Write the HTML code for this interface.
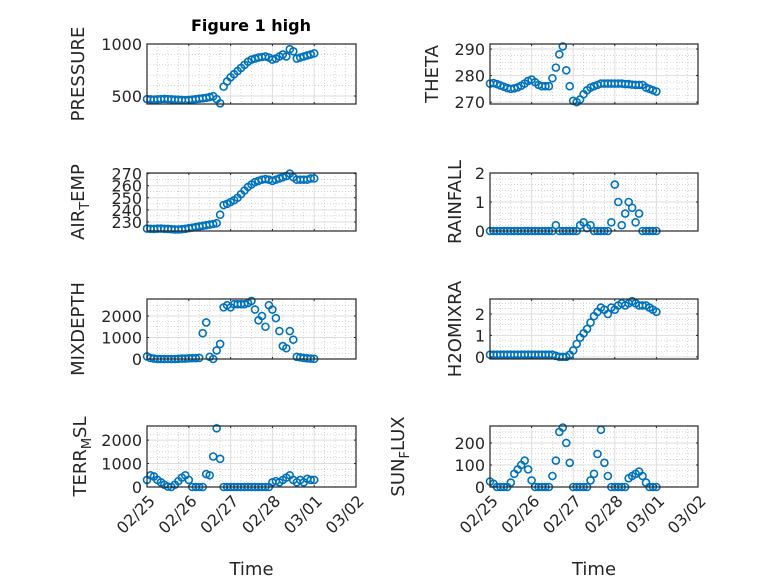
<!DOCTYPE html>
<html><head><meta charset="utf-8"><style>
body{margin:0;background:#fff;}
svg{display:block;font-family:"DejaVu Sans","Liberation Sans",sans-serif;}
</style></head><body>
<svg id="fig" width="778" height="583">
<rect width="778" height="583" fill="#fff"/>
<text x="251" y="31" text-anchor="middle" font-size="16" font-weight="bold" fill="#000">Figure 1 high</text>
</svg>
<script>
const days=[0,1,2,3,4,5];
const dayLabels=['02/25','02/26','02/27','02/28','03/01','03/02'];
const pressure=[470,468,466,468,470,472,470,468,466,464,462,460,462,466,470,474,478,482,490,498,470,430,590,640,680,710,740,770,800,830,850,860,870,875,880,870,850,860,880,900,880,950,930,860,870,880,890,900,910];
const airTemp=[224.5,224.3,224.2,224.4,224.5,224.3,224.2,224,223.8,223.8,224,224.3,224.8,225.3,225.8,226.3,226.8,227.3,227.8,228.3,229,236,244,245,246.5,248,250,253,256,259,261,263,264,265,265.5,265,264,265,266,267,268,270,267,265,265,265,265,266,266];
const theta=[277,277.2,276.8,276.3,275.8,275.3,275,275.2,275.6,276.2,277,278,278.5,277.5,276.5,276,276,276,279,283,288,291,282,276,270.5,270,271,273,274.5,275.5,276,276.5,277,277,277,277,277,277,277,276.8,276.8,276.6,276.5,276.5,276.5,275.5,275,274.5,274];
const rainfall=[0,0,0,0,0,0,0,0,0,0,0,0,0,0,0,0,0,0,0,0.2,0,0,0,0,0,0,0.2,0.3,0.1,0.2,0,0,0,0,0,0.3,1.6,1.0,0.2,0.6,1.0,0.8,0.3,0.6,0,0,0,0,0];
const mixDepth=[120,50,20,0,0,0,0,0,0,10,20,20,30,40,40,50,1200,1700,100,0,400,700,2400,2500,2400,2550,2550,2550,2550,2600,2700,2300,1800,2000,1500,2500,2300,1900,1300,600,500,1300,900,100,80,50,30,20,10];
const h2o=[0.1,0.1,0.1,0.1,0.1,0.1,0.1,0.1,0.1,0.1,0.1,0.1,0.1,0.1,0.1,0.1,0.1,0.1,0.1,0.05,0,0,0,0.1,0.3,0.6,0.9,1.1,1.3,1.6,1.9,2.1,2.3,2.2,2.0,2.3,2.2,2.4,2.5,2.4,2.5,2.6,2.5,2.4,2.4,2.4,2.3,2.2,2.1];
const terr=[300,500,450,300,200,100,20,0,100,250,400,500,300,0,0,0,0,550,500,1300,2500,1200,0,0,0,0,0,0,0,0,0,0,0,0,0,0,200,250,200,300,400,500,300,200,300,200,350,300,300];
const sun=[25,15,0,0,0,0,20,60,80,100,120,80,30,0,0,0,0,0,50,120,250,270,200,110,0,0,0,0,0,30,60,150,260,110,50,0,0,0,0,0,40,50,60,70,50,20,0,0,0];

const NS='http://www.w3.org/2000/svg';
const svg=document.getElementById('fig');
function mk(tag,attrs,parent){const e=document.createElementNS(NS,tag);for(const k in attrs)e.setAttribute(k,attrs[k]);(parent||svg).appendChild(e);return e;}

const panels=[
 {name:'pressure',data:pressure,x0:147,x1:356,y0:44,y1:104,ymin:423,ymax:1000,ticks:[500,1000],minor:[600,700,800,900],label:['PRESSURE'],lx:84},
 {name:'theta',data:theta,x0:490,x1:698,y0:44,y1:104,ymin:269.3,ymax:291.9,ticks:[270,280,290],minor:[272.5,275,277.5,282.5,285,287.5],label:['THETA'],lx:438},
 {name:'air-temp',data:airTemp,x0:147,x1:356,y0:173,y1:231,ymin:222.5,ymax:270.5,ticks:[230,240,250,260,270],minor:[225,235,245,255,265],label:['AIR','T','EMP'],lx:84},
 {name:'rainfall',data:rainfall,x0:490,x1:698,y0:173,y1:231,ymin:0,ymax:2,ticks:[0,1,2],minor:[0.2,0.4,0.6,0.8,1.2,1.4,1.6,1.8],label:['RAINFALL'],lx:461},
 {name:'mixdepth',data:mixDepth,x0:147,x1:356,y0:299,y1:359,ymin:0,ymax:2790,ticks:[0,1000,2000],minor:[250,500,750,1250,1500,1750,2250,2500],label:['MIXDEPTH'],lx:84},
 {name:'h2omixra',data:h2o,x0:490,x1:698,y0:299,y1:359,ymin:-0.1,ymax:2.7,ticks:[0,1,2],minor:[0.25,0.5,0.75,1.25,1.5,1.75,2.25,2.5],label:['H2OMIXRA'],lx:461},
 {name:'terr-msl',data:terr,x0:147,x1:356,y0:426,y1:487,ymin:0,ymax:2600,ticks:[0,1000,2000],minor:[250,500,750,1250,1500,1750,2250,2500],label:['TERR','M','SL'],xt:true,lx:86},
 {name:'sun-flux',data:sun,x0:490,x1:698,y0:426,y1:487,ymin:0,ymax:277,ticks:[0,100,200],minor:[25,50,75,125,150,175,225,250],label:['SUN','F','LUX'],xt:true,lx:404}
];

panels.forEach(p=>{
 const g=mk('g',{});
 
 
 const X=d=>p.x0+(d-0)/(5-0)*(p.x1-p.x0);
 const Y=v=>p.y1-(v-p.ymin)/(p.ymax-p.ymin)*(p.y1-p.y0);
 for(let d=0;d<5;d+=0.25){if(d%1===0)continue;mk('line',{x1:X(d),x2:X(d),y1:p.y0,y2:p.y1,stroke:'#bbb','stroke-width':0.6,'stroke-dasharray':'1,2'},g);}
 p.minor.forEach(v=>mk('line',{x1:p.x0,x2:p.x1,y1:Y(v),y2:Y(v),stroke:'#bbb','stroke-width':0.6,'stroke-dasharray':'1,2'},g));
 days.forEach(d=>mk('line',{x1:X(d),x2:X(d),y1:p.y0,y2:p.y1,stroke:'#dedede','stroke-width':1},g));
 p.ticks.forEach(v=>mk('line',{x1:p.x0,x2:p.x1,y1:Y(v),y2:Y(v),stroke:'#dedede','stroke-width':1},g));
 p.data.forEach((v,i)=>{
  const c=mk('circle',{cx:X(i/12),cy:Y(v),r:3.5,fill:'none',stroke:'#0072BD','stroke-width':1.6},g);
  
  
 });
 mk('rect',{x:p.x0,y:p.y0,width:p.x1-p.x0,height:p.y1-p.y0,fill:'none',stroke:'#262626','stroke-width':1.2},g);
 days.forEach(d=>{mk('line',{x1:X(d),x2:X(d),y1:p.y1,y2:p.y1-2,stroke:'#262626'},g);mk('line',{x1:X(d),x2:X(d),y1:p.y0,y2:p.y0+2,stroke:'#262626'},g);});
 p.ticks.forEach(v=>{
  mk('line',{x1:p.x0,x2:p.x0+2,y1:Y(v),y2:Y(v),stroke:'#262626'},g);
  mk('line',{x1:p.x1,x2:p.x1-2,y1:Y(v),y2:Y(v),stroke:'#262626'},g);
  const t=mk('text',{x:p.x0-5,y:Y(v)+6,'text-anchor':'end','font-size':16,fill:'#262626'},g);
  t.textContent=v;
  
  
 });
 const lbl=mk('text',{transform:`translate(${p.lx},${(p.y0+p.y1)/2}) rotate(-90)`,'text-anchor':'middle','font-size':18,fill:'#262626'},g);
 
 
 if(p.label.length===1){lbl.textContent=p.label[0];}
 else{
  const a=mk('tspan',{},lbl);a.textContent=p.label[0];
  const b=mk('tspan',{dy:5,'font-size':13},lbl);b.textContent=p.label[1];
  const c=mk('tspan',{dy:-5},lbl);c.textContent=p.label[2];
 }
 if(p.xt){
  days.forEach((d,i)=>{
   const t=mk('text',{transform:`translate(${X(d)+9},${p.y1+15}) rotate(-45)`,'text-anchor':'end','font-size':16,fill:'#262626'},g);
   t.textContent=dayLabels[i];
   
   
  });
  const xl=mk('text',{x:(p.x0+p.x1)/2,y:575,'text-anchor':'middle','font-size':18,fill:'#262626'},g);
  xl.textContent='Time';
  
  
 }
});
</script>
</body></html>
